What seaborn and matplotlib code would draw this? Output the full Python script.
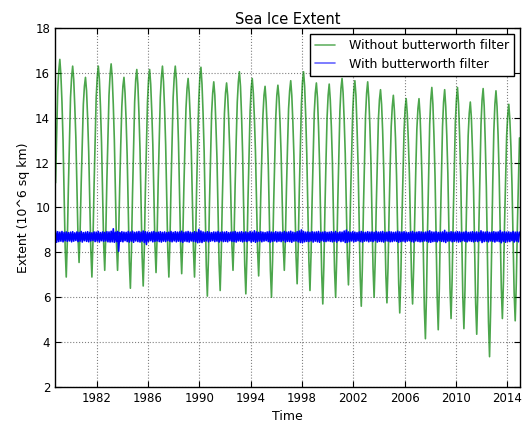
import matplotlib
matplotlib.use('Agg')
import pandas as pd
import matplotlib.pyplot as plt
import seaborn as sns

# Sea ice extent (10^6 sq km), one sample per month
years = list(range(1979, 2015))

jan = [15.2, 14.9, 14.6, 14.9, 15.0, 14.5, 14.7, 14.7, 14.9, 14.9, 14.4, 14.8,
       14.2, 14.2, 14.7, 14.3, 14.1, 14.0, 14.4, 14.6, 14.2, 14.0, 14.3, 14.3,
       14.1, 13.9, 13.6, 13.4, 13.5, 13.7, 13.6, 13.8, 13.2, 13.7, 13.4, 13.2]
feb = [16.1, 15.8, 15.4, 15.8, 15.9, 15.4, 15.7, 15.7, 15.8, 15.8, 15.3, 15.8,
       15.1, 15.1, 15.6, 15.3, 15.0, 15.0, 15.2, 15.6, 15.1, 15.0, 15.3, 15.2,
       15.1, 14.8, 14.5, 14.4, 14.4, 14.8, 14.7, 14.8, 14.2, 14.8, 14.6, 14.1]
mar = [16.6, 16.3, 15.8, 16.3, 16.4, 15.8, 16.15, 16.15, 16.3, 16.3, 15.75, 16.25,
       15.6, 15.55, 16.05, 15.75, 15.4, 15.45, 15.65, 16.05, 15.55, 15.5, 15.75, 15.65,
       15.6, 15.25, 15.0, 14.85, 14.85, 15.35, 15.25, 15.35, 14.7, 15.3, 15.2, 14.6]
apr = [15.9, 15.7, 15.2, 15.7, 15.8, 15.1, 15.5, 15.5, 15.6, 15.7, 15.1, 15.5,
       15.0, 15.0, 15.4, 15.1, 14.7, 14.9, 15.0, 15.4, 14.9, 14.8, 15.1, 15.0,
       14.9, 14.6, 14.3, 14.2, 14.1, 14.6, 14.5, 14.6, 14.0, 14.5, 14.5, 13.9]
may = [14.7, 14.5, 14.0, 14.5, 14.6, 13.9, 14.2, 14.3, 14.4, 14.5, 14.0, 14.2,
       13.7, 13.9, 14.1, 14.0, 13.5, 13.8, 13.8, 14.1, 13.6, 13.6, 13.9, 13.6,
       13.7, 13.4, 13.1, 13.0, 12.7, 13.2, 13.2, 13.2, 12.6, 12.9, 13.2, 12.7]
jun = [13.0, 13.1, 12.5, 12.9, 13.0, 12.3, 12.6, 12.8, 12.8, 12.9, 12.5, 12.5,
       12.2, 12.5, 12.4, 12.5, 11.9, 12.4, 12.3, 12.4, 11.9, 12.0, 12.4, 11.9,
       12.1, 11.7, 11.4, 11.5, 10.9, 11.4, 11.5, 11.4, 10.9, 10.9, 11.4, 11.0]
jul = [10.6, 10.9, 10.3, 10.7, 10.7, 10.0, 10.2, 10.5, 10.5, 10.6, 10.3, 9.9,
       9.8, 10.4, 9.9, 10.3, 9.6, 10.3, 10.0, 10.0, 9.4, 9.6, 10.1, 9.4,
       9.7, 9.4, 9.0, 9.2, 8.2, 8.7, 8.9, 8.7, 8.3, 7.9, 8.9, 8.6]
aug = [8.2, 8.7, 8.1, 8.4, 8.4, 7.6, 7.8, 8.3, 8.1, 8.3, 8.1, 7.4,
       7.5, 8.3, 7.4, 8.1, 7.2, 8.3, 7.8, 7.6, 7.0, 7.2, 7.8, 6.9,
       7.3, 7.0, 6.6, 6.9, 5.5, 6.0, 6.4, 6.0, 5.7, 4.9, 6.4, 6.2]
sep = [6.9, 7.55, 6.9, 7.2, 7.2, 6.4, 6.5, 7.1, 6.9, 7.05, 6.9, 6.05,
       6.3, 7.2, 6.15, 6.95, 6.0, 7.2, 6.6, 6.3, 5.7, 6.0, 6.55, 5.6,
       6.0, 5.75, 5.3, 5.7, 4.15, 4.55, 5.05, 4.6, 4.35, 3.35, 5.05, 4.95]
oct = [8.5, 9.0, 8.5, 8.8, 8.7, 8.1, 8.1, 8.7, 8.5, 8.5, 8.5, 7.7,
       7.9, 8.7, 7.8, 8.4, 7.6, 8.6, 8.2, 7.9, 7.4, 7.7, 8.1, 7.3,
       7.6, 7.3, 6.9, 7.3, 6.1, 6.4, 6.8, 6.3, 6.2, 5.4, 6.7, 6.6]
nov = [10.9, 11.1, 10.9, 11.2, 10.9, 10.6, 10.7, 11.1, 10.9, 10.8, 10.9, 10.2,
       10.3, 11.0, 10.3, 10.6, 10.1, 10.8, 10.7, 10.3, 9.9, 10.2, 10.5, 9.9,
       10.0, 9.7, 9.4, 9.6, 9.0, 9.2, 9.5, 8.9, 9.1, 8.4, 9.2, 9.1]
dec = [13.0, 12.9, 13.0, 13.2, 12.8, 12.7, 12.8, 13.1, 13.0, 12.7, 13.0, 12.3,
       12.3, 13.0, 12.4, 12.4, 12.1, 12.7, 12.7, 12.3, 12.1, 12.3, 12.5, 12.1,
       12.0, 11.8, 11.5, 11.7, 11.4, 11.5, 11.7, 11.2, 11.5, 11.1, 11.3, 11.2]

start_1978 = [11.1, 13.2]   # Nov, Dec 1978
end_2015 = [13.1]           # Jan 2015

# filtered series, same sample times (Nov 1978 ... Jan 2015)
filtered = [
    8.95, 8.45,
    8.92, 8.48, 8.90, 8.50, 8.93, 8.47, 8.89, 8.52, 8.91, 8.49, 8.88, 8.51,
    8.90, 8.47, 8.92, 8.50, 8.87, 8.53, 8.91, 8.48, 8.89, 8.50, 8.93, 8.46,
    8.88, 8.52, 8.90, 8.49, 8.92, 8.47, 8.89, 8.51, 8.87, 8.53, 8.91, 8.48,
    8.90, 8.50, 8.93, 8.46, 8.88, 8.52, 8.91, 8.49, 8.89, 8.51, 8.92, 8.47,
    8.91, 8.46, 8.94, 8.47, 9.05, 8.45, 8.90, 8.48, 8.93, 8.05, 8.88, 8.49,
    8.92, 8.47, 8.90, 8.52, 8.89, 8.48, 8.93, 8.46, 8.90, 8.50, 8.94, 8.45,
    8.89, 8.51, 8.91, 8.48, 8.93, 8.46, 8.90, 8.50, 8.95, 8.44, 8.92, 8.35,
    8.90, 8.49, 8.88, 8.52, 8.91, 8.47, 8.93, 8.49, 8.89, 8.51, 8.90, 8.48,
    8.92, 8.46, 8.89, 8.50, 8.91, 8.48, 8.88, 8.52, 8.90, 8.49, 8.93, 8.47,
    8.89, 8.51, 8.92, 8.47, 8.90, 8.50, 8.91, 8.48, 8.94, 8.45, 8.89, 8.50,
    8.91, 8.48, 8.93, 8.46, 8.90, 8.51, 8.88, 8.49, 8.92, 8.47, 8.90, 8.43,
    9.02, 8.46, 8.95, 8.44, 8.91, 8.49, 8.89, 8.51, 8.92, 8.47, 8.90, 8.50,
    8.88, 8.52, 8.91, 8.48, 8.90, 8.50, 8.93, 8.46, 8.89, 8.51, 8.91, 8.48,
    8.90, 8.49, 8.92, 8.47, 8.88, 8.52, 8.90, 8.49, 8.91, 8.48, 8.93, 8.46,
    8.89, 8.51, 8.90, 8.50, 8.92, 8.47, 8.89, 8.50, 8.91, 8.48, 8.88, 8.52,
    8.93, 8.46, 8.90, 8.49, 8.96, 8.45, 8.91, 8.48, 8.89, 8.51, 8.92, 8.47,
    8.90, 8.50, 8.88, 8.52, 8.91, 8.48, 8.93, 8.46, 8.90, 8.49, 8.89, 8.51,
    8.92, 8.47, 8.90, 8.50, 8.91, 8.48, 8.89, 8.52, 8.93, 8.46, 8.90, 8.49,
    8.91, 8.48, 8.94, 8.45, 8.90, 8.50, 8.88, 8.51, 8.92, 8.47, 8.95, 8.44,
    9.00, 8.43, 8.93, 8.47, 8.90, 8.49, 8.91, 8.48, 8.89, 8.51, 8.92, 8.46,
    8.90, 8.50, 8.91, 8.47, 8.93, 8.45, 8.89, 8.52, 8.90, 8.49, 8.92, 8.48,
    8.89, 8.51, 8.90, 8.49, 8.92, 8.47, 8.90, 8.50, 8.93, 8.46, 8.88, 8.52,
    8.91, 8.48, 8.90, 8.50, 8.95, 8.44, 8.99, 8.45, 8.91, 8.48, 8.89, 8.51,
    8.92, 8.47, 8.90, 8.49, 8.88, 8.52, 8.91, 8.48, 8.93, 8.46, 8.90, 8.50,
    8.89, 8.51, 8.92, 8.47, 8.90, 8.50, 8.91, 8.48, 8.89, 8.52, 8.93, 8.46,
    8.90, 8.49, 8.91, 8.48, 8.93, 8.46, 8.89, 8.51, 8.90, 8.50, 8.92, 8.47,
    8.91, 8.48, 8.89, 8.51, 8.90, 8.49, 8.94, 8.45, 8.91, 8.48, 8.90, 8.50,
    8.92, 8.47, 8.90, 8.50, 8.88, 8.52, 8.91, 8.48, 8.93, 8.46, 8.89, 8.51,
    8.90, 8.49, 8.92, 8.47, 8.91, 8.48, 8.89, 8.51, 8.90, 8.50, 8.93, 8.46,
    8.96, 8.45, 8.91, 8.48, 8.90, 8.49, 8.92, 8.47, 8.89, 8.52, 8.90, 8.49,
    8.91, 8.48, 8.98, 8.44, 8.90, 8.50, 8.89, 8.51, 8.92, 8.47, 8.90, 8.49,
    8.90, 8.50, 8.92, 8.46, 8.91, 8.48, 8.89, 8.52, 8.90, 8.49, 8.93, 8.47,
    8.89, 8.51, 8.90, 8.49, 8.92, 8.47, 8.90, 8.50, 8.91, 8.48, 8.89, 8.52,
    8.96, 8.44, 8.91, 8.48, 8.90, 8.50, 8.92, 8.47, 8.89, 8.51, 8.90, 8.49,
    8.92, 8.46, 8.90, 8.50, 8.91, 8.48, 8.97, 8.43, 8.90, 8.49, 8.92, 8.45,
    8.90, 8.49, 8.91, 8.48, 8.89, 8.52, 8.93, 8.46, 8.90, 8.50, 8.91, 8.47,
    8.90,
]

year_ticks = list(range(1982, 2015, 4))

# sample times in decimal years
months = [jan, feb, mar, apr, may, jun, jul, aug, sep, oct, nov, dec]
time = [1978 + 9.5 / 12, 1978 + 10.5 / 12]
raw = list(start_1978)
for i, yr in enumerate(years):
    for k, col in enumerate(months):
        time.append(yr + (k - 0.5) / 12)
        raw.append(col[i])
time.append(2015 - 0.5 / 12)
raw += end_2015

df = pd.DataFrame({'Time': time, 'raw': raw, 'filtered': filtered})

sns.set_style('ticks', {'axes.edgecolor': 'black', 'xtick.color': 'black',
                        'ytick.color': 'black', 'text.color': 'black',
                        'axes.labelcolor': 'black',
                        'xtick.direction': 'in', 'ytick.direction': 'in'})
plt.rcParams['font.family'] = ['DejaVu Sans']

fig = plt.figure(figsize=(5.24, 4.24), dpi=100)
ax = fig.add_axes([0.105, 0.0873, 0.8874, 0.8467])

sns.lineplot(data=df, x='Time', y='raw', color='g', alpha=0.7, lw=1.2,
             estimator=None, sort=False, label='Without butterworth filter', ax=ax)
sns.lineplot(data=df, x='Time', y='filtered', color='b', lw=1.2,
             estimator=None, sort=False, label='With butterworth filter', ax=ax)

ax.set_xlim(1978.75, 2015.0)
ax.set_ylim(2, 18)
ax.set_xticks(year_ticks)
ax.set_xticklabels([str(y) for y in year_ticks])
ax.grid(True, color='0.5', linestyle=':', linewidth=0.8)
ax.tick_params(direction='in', top=True, right=True, length=4, width=0.8,
               labelsize=8.5)
for s in ax.spines.values():
    s.set_linewidth(1)

ax.set_title('Sea Ice Extent', fontsize=10.5, pad=3)
ax.set_xlabel('Time', fontsize=9)
ax.set_ylabel('Extent (10^6 sq km)', fontsize=9)

leg = ax.legend(loc='upper right', frameon=True, fancybox=False, framealpha=1,
                edgecolor='black', fontsize=9, handlelength=1.6,
                handletextpad=1.1, borderpad=0.4, labelspacing=0.45,
                borderaxespad=0.5)
leg.get_frame().set_linewidth(1)
for h in leg.legend_handles:
    h.set_alpha(0.6)
    h.set_linewidth(1.2)

fig.savefig('out.png', dpi=100)
